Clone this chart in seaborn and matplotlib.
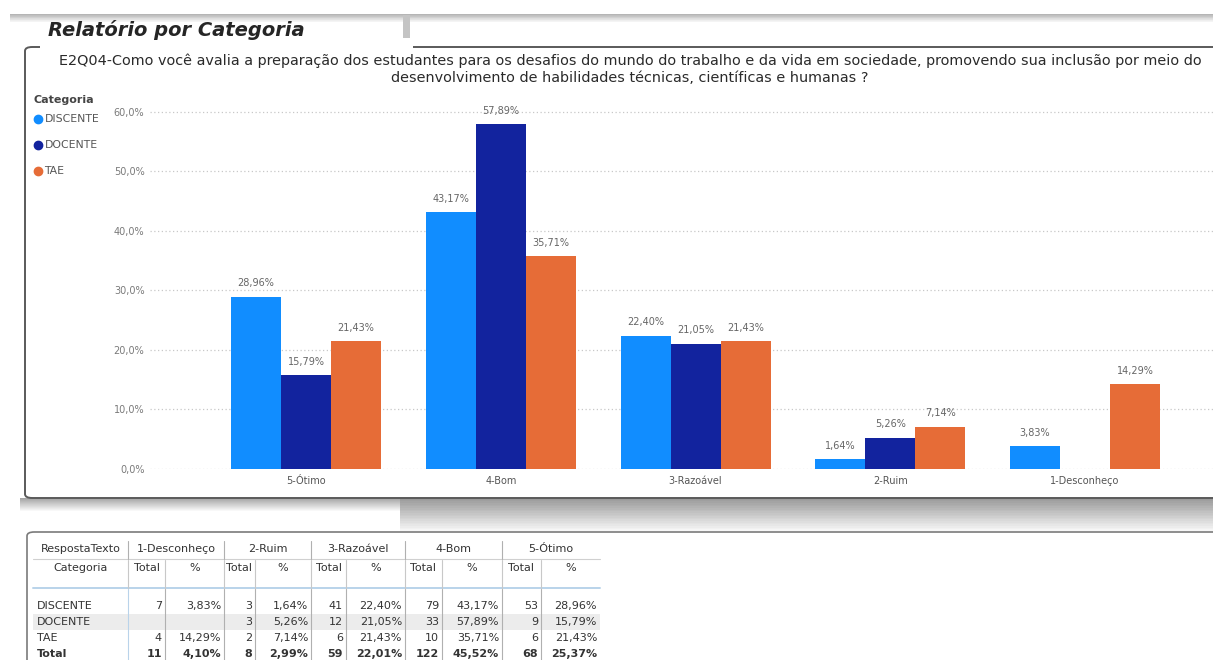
import numpy as np
import pandas as pd
import matplotlib
matplotlib.use('Agg')
import matplotlib.pyplot as plt
from matplotlib.patches import FancyBboxPatch, Rectangle
from matplotlib.lines import Line2D
import seaborn as sns

# chart data (percent per answer and group)
respostas = ['5-Ótimo', '4-Bom', '3-Razoável', '2-Ruim', '1-Desconheço']
grupos = ['DISCENTE', 'DOCENTE', 'TAE']
pct_discente = [28.96, 43.17, 22.40, 1.64, 3.83]
pct_docente = [15.79, 57.89, 21.05, 5.26, np.nan]
pct_tae = [21.43, 35.71, 21.43, 7.14, 14.29]
cores = ['#118DFF', '#12239E', '#E66C37']
y_ticks = [0, 10, 20, 30, 40, 50, 60]

# table data (columns ordered 1-Desconheço .. 5-Ótimo)
tab_respostas = ['1-Desconheço', '2-Ruim', '3-Razoável', '4-Bom', '5-Ótimo']
tab_linhas = ['DISCENTE', 'DOCENTE', 'TAE', 'Total']
tab_total = [
    [7, 3, 41, 79, 53],
    [None, 3, 12, 33, 9],
    [4, 2, 6, 10, 6],
    [11, 8, 59, 122, 68],
]
tab_pct = [
    [3.83, 1.64, 22.40, 43.17, 28.96],
    [None, 5.26, 21.05, 57.89, 15.79],
    [14.29, 7.14, 21.43, 35.71, 21.43],
    [4.10, 2.99, 22.01, 45.52, 25.37],
]

W, H = 1213, 660


def fx(x):
    return x / W


def fy(y):
    return 1 - y / H


def br(v):
    return f'{v:.2f}%'.replace('.', ',')


sns.set_theme(style='white')
plt.rcParams['font.family'] = ['DejaVu Sans']

fig = plt.figure(figsize=(W / 100, H / 100), dpi=100)
fig.patch.set_facecolor('white')


def band(x0, x1, y0, y1, c0, c1, n=14):
    # simple vertical gradient made of thin rectangles
    c0 = np.array(matplotlib.colors.to_rgb(c0))
    c1 = np.array(matplotlib.colors.to_rgb(c1))
    step = (y1 - y0) / n
    for i in range(n):
        c = c0 + (c1 - c0) * i / (n - 1)
        fig.add_artist(Rectangle((fx(x0), fy(y0 + (i + 1) * step)), fx(x1 - x0), step / H,
                                 transform=fig.transFigure, color=c, lw=0, zorder=0))


# screenshot decorations
band(10, W, 14, 23, '#b5b5b5', '#ffffff')
fig.add_artist(Rectangle((fx(403), fy(40)), fx(7), 25 / H, transform=fig.transFigure,
                         color='#c4c4c4', lw=0, zorder=1))
band(20, 400, 498, 512, '#a5a5a5', '#ffffff')
band(400, W, 498, 531, '#9a9a9a', '#f6f6f6', n=20)

chart_box = FancyBboxPatch((fx(25), fy(498)), fx(1240 - 25), (498 - 47) / H,
                           boxstyle='round,pad=0,rounding_size=0.006',
                           transform=fig.transFigure, facecolor='white',
                           edgecolor='#5a5a5a', lw=1.4, zorder=1)
fig.add_artist(chart_box)
fig.add_artist(Rectangle((fx(40), fy(50)), fx(373), 12 / H, transform=fig.transFigure,
                         color='white', lw=0, zorder=2))

table_box = FancyBboxPatch((fx(27), fy(720)), fx(1240 - 27), (720 - 532) / H,
                           boxstyle='round,pad=0,rounding_size=0.006',
                           transform=fig.transFigure, facecolor='white',
                           edgecolor='#7a7a7a', lw=1.2, zorder=1)
fig.add_artist(table_box)

fig.text(fx(48), fy(30), 'Relatório por Categoria', fontsize=14, fontweight='bold',
         fontstyle='italic', color='#252525', va='center', ha='left', zorder=3)

fig.text(fx(630), fy(69),
         'E2Q04-Como você avalia a preparação dos estudantes para os desafios do mundo do trabalho '
         'e da vida em sociedade, promovendo sua inclusão por meio do\n'
         'desenvolvimento de habilidades técnicas, científicas e humanas ?',
         fontsize=10.4, color='#2a2a2a', ha='center', va='center', linespacing=1.3, zorder=3)

# bar chart
df = pd.DataFrame({
    'Resposta': respostas * 3,
    'Categoria': np.repeat(grupos, len(respostas)),
    'Pct': pct_discente + pct_docente + pct_tae,
}).dropna()

ax = fig.add_axes([fx(150), fy(469), fx(W - 150), (469 - 100) / H])
ax.set_zorder(3)
ax.patch.set_alpha(0)
sns.barplot(data=df, x='Resposta', y='Pct', hue='Categoria', order=respostas,
            hue_order=grupos, palette=cores, width=0.77, saturation=1, ax=ax,
            legend=False, errorbar=None, linewidth=0)

for cont in ax.containers:
    ax.bar_label(cont, labels=[br(v) for v in cont.datavalues], padding=6,
                 fontsize=7, color='#666666')

ax.set_xlim(-0.801, 4.657)
ax.set_ylim(0, 62)
ax.set_yticks(y_ticks)
ax.set_yticklabels([f'{t:.1f}%'.replace('.', ',') for t in y_ticks])
ax.set_xlabel('')
ax.set_ylabel('')
ax.yaxis.grid(True, linestyle=(0, (1, 2)), color='#c8c8c8', lw=0.9)
ax.set_axisbelow(True)
for s in ax.spines.values():
    s.set_visible(False)
ax.tick_params(axis='y', length=0, pad=4, labelsize=7, labelcolor='#7a7a7a')
ax.tick_params(axis='x', length=0, pad=5, labelsize=7, labelcolor='#555555')

# legend, drawn by hand to match the Power BI layout
fig.text(fx(33), fy(100), 'Categoria', fontsize=8, fontweight='bold', color='#444444',
         ha='left', va='center', zorder=4)
for k, (g, c) in enumerate(zip(grupos, cores)):
    yy = 119 + 26 * k
    fig.add_artist(Line2D([fx(38)], [fy(yy)], marker='o', ls='', color=c, markersize=6,
                          transform=fig.transFigure, zorder=4))
    fig.text(fx(44.5), fy(yy), g, fontsize=7.8, color='#555555', ha='left', va='center', zorder=4)

# table below the chart
col_edges = [33, 128, 165, 224, 255, 311, 346, 405, 442, 502, 541, 600]
y_h1, y_h2 = 549, 568
row_y = [606, 622, 638, 654]
row_h = 16
tfont = dict(fontsize=8, color='#333333', zorder=4, family='DejaVu Sans')

# zebra row (DOCENTE)
fig.add_artist(Rectangle((fx(col_edges[0]), fy(row_y[1] + row_h / 2)), fx(col_edges[-1] - col_edges[0]),
                         row_h / H, transform=fig.transFigure, color='#ececec', lw=0, zorder=3))

fig.text(fx((col_edges[0] + col_edges[1]) / 2), fy(y_h1), 'RespostaTexto', ha='center', va='center', **tfont)
fig.text(fx((col_edges[0] + col_edges[1]) / 2), fy(y_h2), 'Categoria', ha='center', va='center', **tfont)
for j, r in enumerate(tab_respostas):
    a, b, c = col_edges[1 + 2 * j], col_edges[2 + 2 * j], col_edges[3 + 2 * j]
    fig.text(fx((a + c) / 2), fy(y_h1), r, ha='center', va='center', **tfont)
    fig.text(fx((a + b) / 2), fy(y_h2), 'Total', ha='center', va='center', **tfont)
    fig.text(fx((b + c) / 2), fy(y_h2), '%', ha='center', va='center', **tfont)


def vline(x, y0, y1, color='#c8c8c8', lw=0.8):
    fig.add_artist(Line2D([fx(x), fx(x)], [fy(y0), fy(y1)], transform=fig.transFigure,
                          color=color, lw=lw, zorder=4))


def hline(x0, x1, y, color='#c8c8c8', lw=0.8):
    fig.add_artist(Line2D([fx(x0), fx(x1)], [fy(y), fy(y)], transform=fig.transFigure,
                          color=color, lw=lw, zorder=4))


hline(col_edges[0], col_edges[-1], 559, '#d0d0d0')
hline(col_edges[0], col_edges[-1], 588, '#b9d3ea', lw=1.4)
for k, x in enumerate(col_edges[1:-1]):
    if k % 2 == 0:
        vline(x, 541, 559, '#b0b0b0')
    vline(x, 560, 588, '#c8c8c8')
    vline(x, 589, 662, '#b9d3ea' if k == 0 else '#b0b0b0')

for i, nome in enumerate(tab_linhas):
    bold = 'bold' if nome == 'Total' else 'normal'
    y = fy(row_y[i])
    fig.text(fx(col_edges[0] + 4), y, nome, ha='left', va='center', fontweight=bold, **tfont)
    for j in range(len(tab_respostas)):
        t = tab_total[i][j]
        p = tab_pct[i][j]
        if t is not None:
            fig.text(fx(col_edges[2 + 2 * j] - 3), y, str(t), ha='right', va='center',
                     fontweight=bold, **tfont)
        if p is not None:
            fig.text(fx(col_edges[3 + 2 * j] - 3), y, br(p), ha='right', va='center',
                     fontweight=bold, **tfont)

fig.savefig('out.png', dpi=100)
